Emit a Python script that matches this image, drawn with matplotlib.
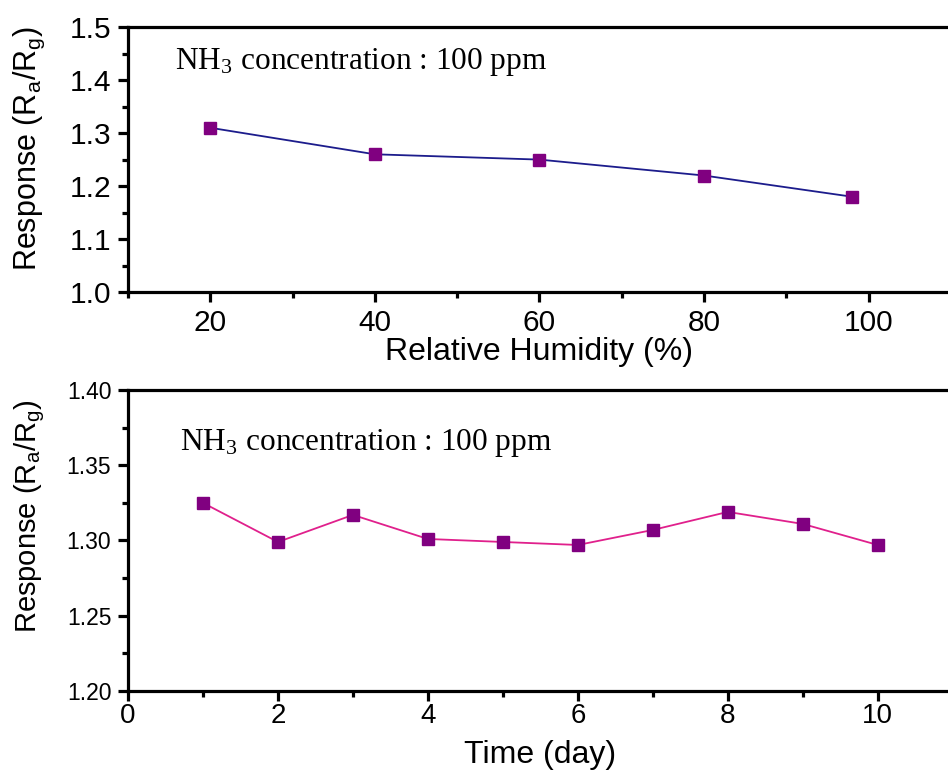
import matplotlib.pyplot as plt
from matplotlib.ticker import MultipleLocator, FormatStrFormatter

# humidity test
humidity = [20, 40, 60, 80, 98]
resp_humidity = [1.31, 1.26, 1.25, 1.22, 1.18]

# stability test
days = [1, 2, 3, 4, 5, 6, 7, 8, 9, 10]
resp_days = [1.325, 1.299, 1.317, 1.301, 1.299, 1.297, 1.307, 1.319, 1.311, 1.297]

plt.rcParams['font.family'] = ['Liberation Sans', 'DejaVu Sans']
plt.rcParams['mathtext.fontset'] = 'custom'
plt.rcParams['mathtext.rm'] = 'Liberation Sans'
plt.rcParams['mathtext.it'] = 'Liberation Sans'

fig = plt.figure(figsize=(9.48, 7.71), dpi=100)
ax1 = fig.add_axes([0.135, 0.621, 0.868, 0.344])
ax2 = fig.add_axes([0.135, 0.104, 0.870, 0.390])

marker_color = '#800080'

ax1.plot(humidity, resp_humidity, '-', color='#1c1c8c', lw=1.3, zorder=2)
ax1.plot(humidity, resp_humidity, 's', color=marker_color, ms=9, zorder=3)
ax2.plot(days, resp_days, '-', color='#e0208c', lw=1.3, zorder=2)
ax2.plot(days, resp_days, 's', color=marker_color, ms=9, zorder=3)

ax1.set_xlim(10, 110)
ax1.set_ylim(1.0, 1.5)
ax1.xaxis.set_major_locator(MultipleLocator(20))
ax1.xaxis.set_minor_locator(MultipleLocator(10))
ax1.yaxis.set_major_locator(MultipleLocator(0.1))
ax1.yaxis.set_minor_locator(MultipleLocator(0.05))
ax1.yaxis.set_major_formatter(FormatStrFormatter('%.1f'))

ax2.set_xlim(0, 11)
ax2.set_ylim(1.20, 1.40)
ax2.xaxis.set_major_locator(MultipleLocator(2))
ax2.xaxis.set_minor_locator(MultipleLocator(1))
ax2.yaxis.set_major_locator(MultipleLocator(0.05))
ax2.yaxis.set_minor_locator(MultipleLocator(0.025))
ax2.yaxis.set_major_formatter(FormatStrFormatter('%.2f'))

ylab = 'Response (R$_\\mathregular{a}$/R$_\\mathregular{g}$)'
for ax in (ax1, ax2):
    for s in ax.spines.values():
        s.set_linewidth(2.3)
    ax.spines['right'].set_linewidth(1.0)
    ax.tick_params(which='major', direction='out', length=7, width=2.3)
    ax.tick_params(which='minor', direction='out', length=4, width=2.3)

ax1.set_ylabel(ylab, fontsize=22)
ax2.set_ylabel(ylab, fontsize=21)

ax1.tick_params(axis='both', which='major', labelsize=21.5, pad=5)
ax2.tick_params(axis='x', which='major', labelsize=20, pad=2)
ax2.tick_params(axis='y', which='major', labelsize=16.5, pad=5)

ax1.set_xlabel('Relative Humidity (%)', fontsize=23, labelpad=0)
ax2.set_xlabel('Time (day)', fontsize=23, labelpad=8)
ax1.yaxis.set_label_coords(-0.098, 0.54)
ax2.yaxis.set_label_coords(-0.098, 0.58)

txt = 'NH$_\\mathregular{3}$ concentration : 100 ppm'
ax1.text(0.057, 0.84, txt, transform=ax1.transAxes, fontsize=22.5, va='baseline',
         family='Liberation Serif', math_fontfamily='stix')
ax2.text(0.063, 0.80, txt, transform=ax2.transAxes, fontsize=22.5, va='baseline',
         family='Liberation Serif', math_fontfamily='stix')

fig.savefig('out.png', dpi=100)
